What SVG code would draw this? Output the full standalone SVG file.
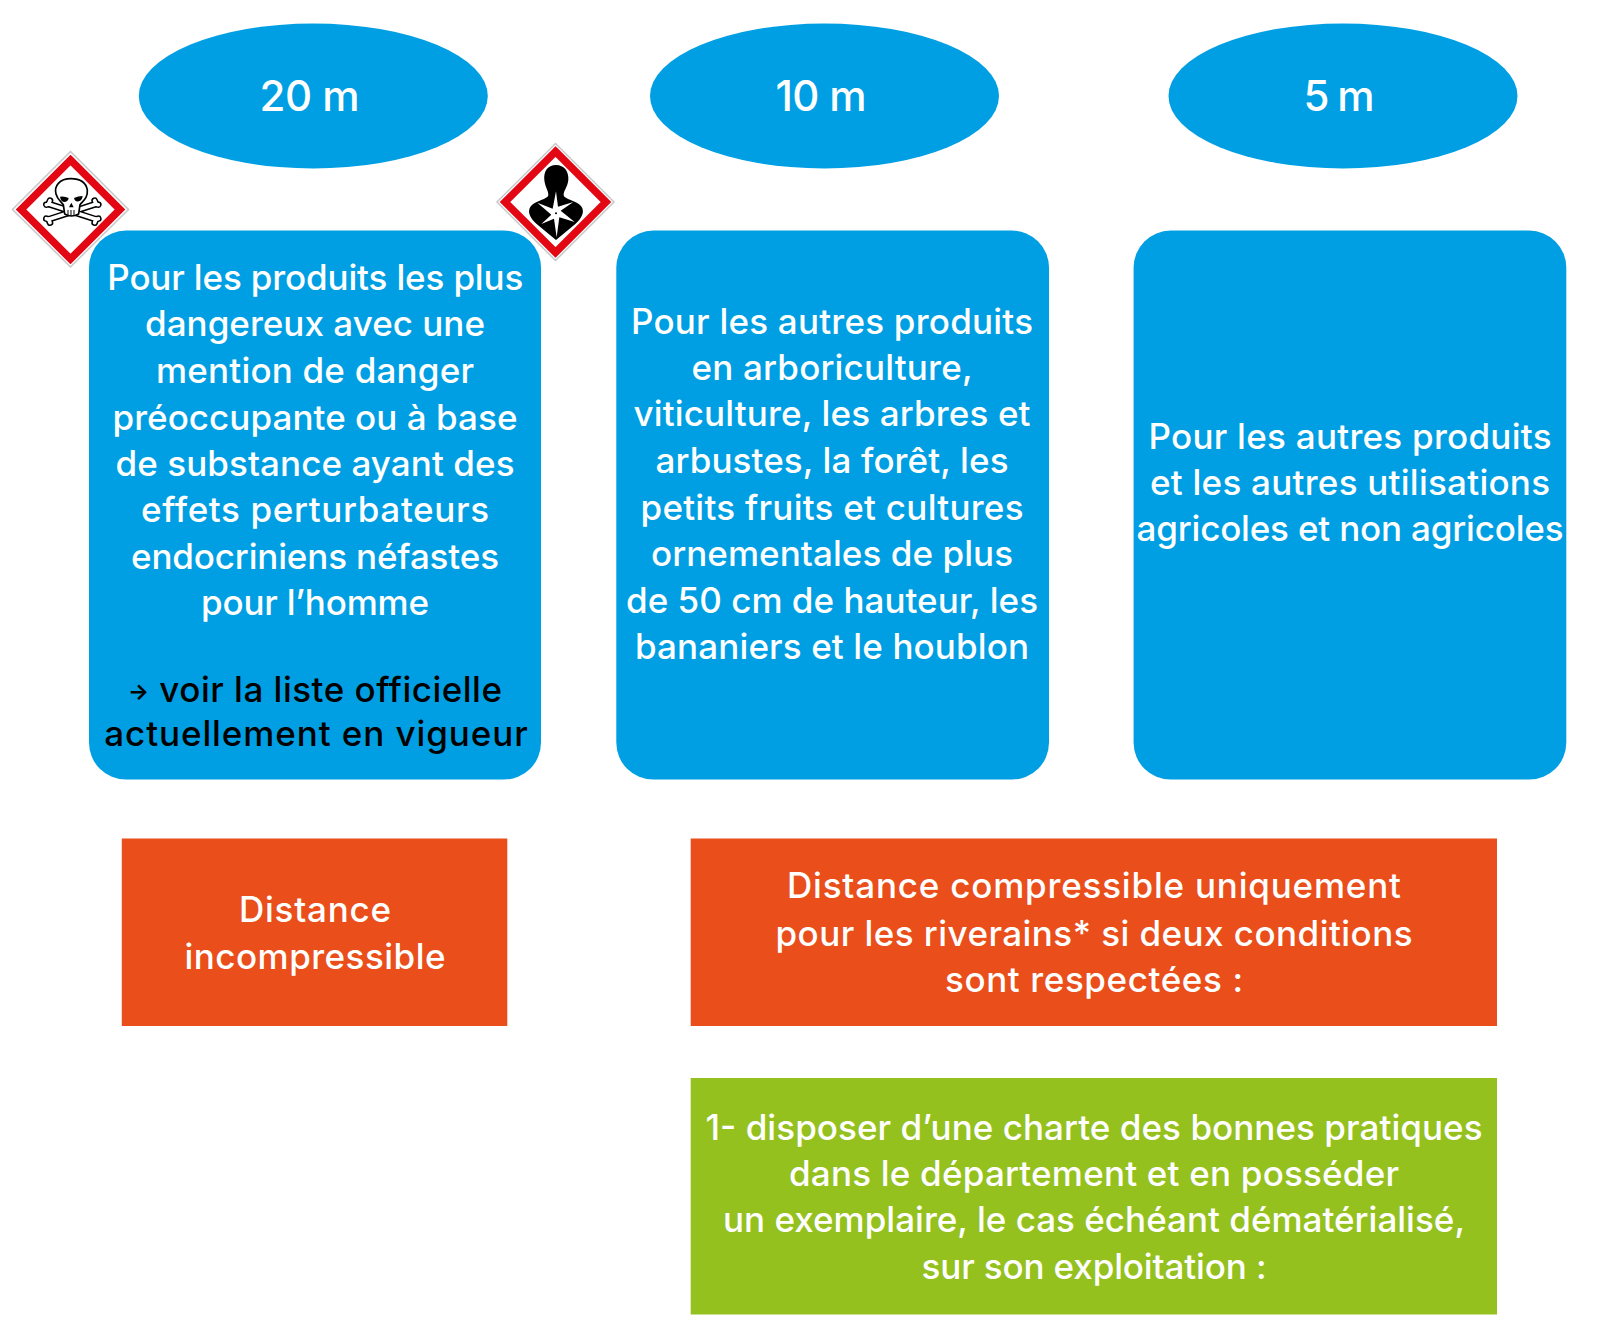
<svg xmlns="http://www.w3.org/2000/svg" width="1600" height="1318" viewBox="0 0 1600 1318">
<style>
.b{fill:#009fe3}.o{fill:#ea4e1b}.g{fill:#95c11f}
text{font-family:"Inter","Noto Sans",sans-serif;font-size:35px;font-weight:500;fill:#fff;text-anchor:middle}
.h{font-size:42px}.k{fill:#000}
.ar{font-size:22px;font-weight:700}
.dg{fill:#fff;stroke:#c8c8c8;stroke-width:1.5}
.dr{fill:#fff;stroke:#e30613;stroke-width:7.5;stroke-linejoin:miter}
.bk{fill:none;stroke:#000;stroke-width:20;stroke-linecap:round}
.bw{fill:none;stroke:#fff;stroke-width:11;stroke-linecap:round}
.sk{fill:#fff;stroke:#000;stroke-width:5;stroke-linejoin:round}
</style>
<defs>
<g id="bones">
<path d="M146 222L288 268M288 222L146 268"/>
<path d="M139 224L146 222L150 212M295 224L288 222L284 212M139 266L146 268L150 278M295 266L288 268L284 278"/>
</g>
</defs>
<rect width="1600" height="1318" fill="#fff"/>
<g id="e20"><ellipse class="b" cx="313.3" cy="96" rx="174.5" ry="72.5"/><text class="h" x="309.5" y="110.5" textLength="100">20 m</text></g>
<g id="e10"><ellipse class="b" cx="824.5" cy="96" rx="174.5" ry="72.5"/><text class="h" x="821" y="110.5" textLength="91">10 m</text></g>
<g id="e5"><ellipse class="b" cx="1343" cy="96" rx="174.5" ry="72.5"/><text class="h" x="1339" y="110.5" textLength="71">5 m</text></g>
<g id="box20"><rect class="b" x="89" y="230.6" width="452" height="549" rx="37"/>
<text x="315.3" y="290" textLength="416">Pour les produits les plus</text><text x="315" y="336" textLength="340">dangereux avec une</text><text x="315" y="383" textLength="318">mention de danger</text><text x="315" y="429.5" textLength="405">préoccupante ou à base</text><text x="315" y="475.5" textLength="399">de substance ayant des</text><text x="315" y="522" textLength="348">effets perturbateurs</text><text x="315" y="568.5" textLength="368">endocriniens néfastes</text><text x="315" y="615" textLength="228">pour l’homme</text>
<text class="k" x="315" y="702" textLength="374"><tspan class="ar" dy="-3">→</tspan><tspan dy="3"> voir la liste officielle</tspan></text><text class="k" x="316" y="746" textLength="423.5">actuellement en vigueur</text></g>
<g id="box10"><rect class="b" x="616.3" y="230.6" width="432.7" height="549" rx="37"/>
<text x="832" y="334" textLength="402">Pour les autres produits</text><text x="832" y="380" textLength="281">en arboriculture,</text><text x="832" y="425.5" textLength="397">viticulture, les arbres et</text><text x="832" y="473" textLength="353">arbustes, la forêt, les</text><text x="832" y="519.5" textLength="383">petits fruits et cultures</text><text x="832" y="566" textLength="362">ornementales de plus</text><text x="832" y="612.5" textLength="412">de 50 cm de hauteur, les</text><text x="832" y="659" textLength="394">bananiers et le houblon</text></g>
<g id="box5"><rect class="b" x="1133.6" y="230.6" width="432.7" height="549" rx="37"/>
<text x="1350" y="448.5" textLength="403">Pour les autres produits</text><text x="1350" y="494.5" textLength="400">et les autres utilisations</text><text x="1350" y="541" textLength="427">agricoles et non agricoles</text></g>
<g id="o1"><rect class="o" x="121.8" y="838.5" width="385.5" height="187.5"/><text x="315" y="921.5" textLength="152">Distance</text><text x="315" y="968.5" textLength="261">incompressible</text></g>
<g id="o2"><rect class="o" x="690.7" y="838.5" width="806.3" height="187.5"/><text x="1094" y="898" textLength="614">Distance compressible uniquement</text><text x="1094" y="945.5" textLength="637">pour les riverains* si deux conditions</text><text x="1094" y="992" textLength="298">sont respectées :</text></g>
<g id="g1"><rect class="g" x="690.7" y="1078" width="806.3" height="236.5"/><text x="1094" y="1139.5" textLength="777">1- disposer d’une charte des bonnes pratiques</text><text x="1094" y="1186" textLength="610">dans le département et en posséder</text><text x="1094" y="1232" textLength="742">un exemplaire, le cas échéant dématérialisé,</text><text x="1094" y="1279" textLength="345">sur son exploitation :</text></g>
<g id="pictoSkull">
<polygon class="dg" points="70.5,151.5 128.5,209.5 70.5,267 12.5,209.5"/>
<polygon class="dr" points="70.5,160 120,209.5 70.5,259 21,209.5"/>
<g transform="translate(0,130) scale(.3333)">
<use href="#bones" class="bk"/><use href="#bones" class="bw"/>
<path class="sk" d="M213 146 C178 146 162 168 168 192 C172 208 182 214 190 224 L194 252 Q214 264 236 252 L240 224 C250 212 264 204 262 180 C258 158 240 146 213 146Z"/>
<path d="M180 200 Q194 198 206 204 Q204 216 192 216 Q182 214 180 200Z"/><path d="M248 198 Q234 198 222 204 Q224 216 236 214 Q246 212 248 198Z"/>
<path d="M214 218 L207 232 L221 232Z"/>
<path d="M204 240V256M213 240V258M222 240V256" stroke="#000" stroke-width="3" fill="none"/>
</g></g>
<g id="pictoHealth">
<polygon class="dg" points="555.5,143.5 614,202 555.5,260.5 497,202"/>
<polygon class="dr" points="555.5,151.5 606,202 555.5,252.5 505,202"/>
<g transform="translate(480,130) scale(.3333)">
<path d="M228 105 C203 105 190 125 193 150 C195 172 206 182 205 196 C203 208 168 212 153 228 C140 244 150 264 170 282 L228 330 L286 282 C306 264 316 244 303 228 C288 212 253 208 251 196 C250 182 263 172 265 150 C267 125 253 105 228 105Z"/>
<path fill="#fff" d="M228 184 L234 230 L280 216 L242 242 L284 276 L238 262 L230 322 L222 266 L184 282 L214 254 L172 218 L218 236Z"/>
<circle cx="228" cy="250" r="15" fill="#fff"/>
<circle cx="228" cy="250" r="3" fill="#000"/>
</g></g>
<g id="connectors"/>
</svg>
